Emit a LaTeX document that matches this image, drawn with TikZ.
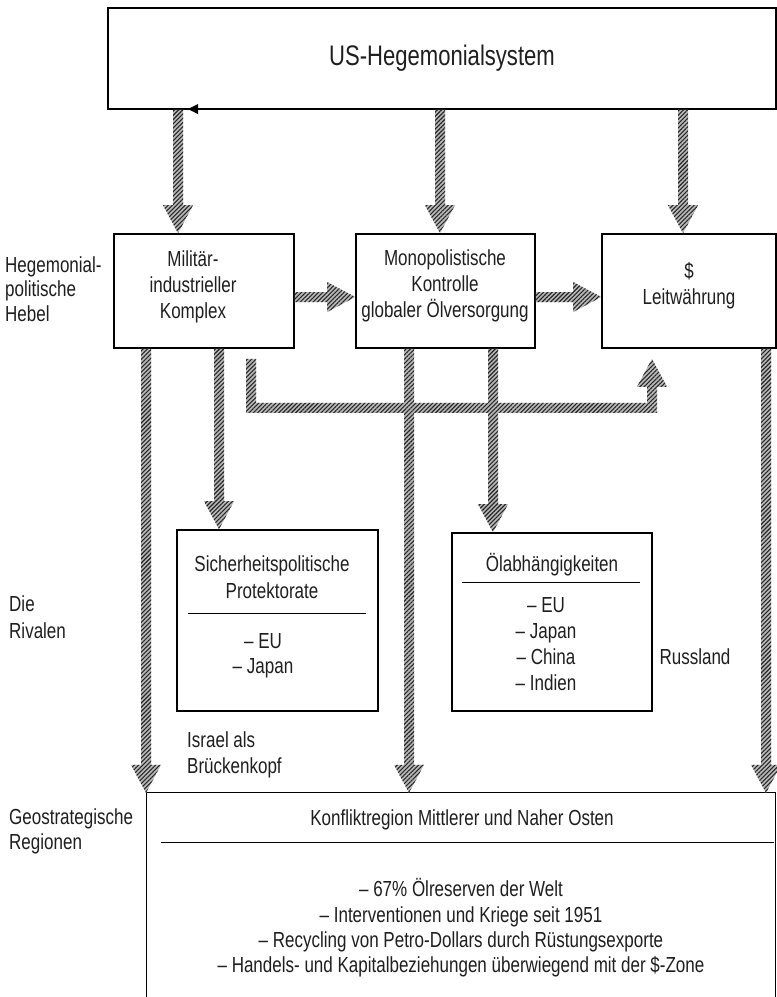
\documentclass[tikz,border=0pt]{standalone}
\usepackage{fontspec}
\setmainfont{Liberation Sans}[FakeStretch=0.78]
\usetikzlibrary{calc,patterns.meta}
\tikzset{
  box/.style={draw=black, line width=1.6pt, fill=white, inner sep=0pt},
  txt/.style={align=center, font=\fontsize{21.8}{26}\selectfont, text=black!88, inner sep=0pt},
  ltxt/.style={align=left, anchor=west, font=\fontsize{21.8}{25}\selectfont, text=black!88, inner sep=0pt},
  hatch/.style={preaction={fill=gray!55}, pattern={Lines[angle=45,distance=3pt,line width=1.1pt]}, pattern color=black!85},
  sepline/.style={draw=black, line width=1.2pt},
}
\newcommand\harrow[2]{%
  \coordinate (hA) at #1;
  \coordinate (hB) at #2;
  \coordinate (hH) at ($(hB)!28pt!(hA)$);
  \fill[hatch] ($(hA)!5pt!90:(hB)$) -- ($(hH)!5pt!-90:(hA)$) -- ($(hH)!15pt!-90:(hA)$) -- (hB) -- ($(hH)!15pt!90:(hA)$) -- ($(hH)!5pt!90:(hA)$) -- ($(hA)!5pt!-90:(hB)$) -- cycle;
}
\begin{document}
\begin{tikzpicture}[x=1pt,y=-1pt]
\fill[white] (0,0) rectangle (777,997);
\useasboundingbox (0,0) rectangle (777,997);

% boxes
\node[box, minimum width=668, minimum height=101] (top) at (442,58.5) {};
\node[txt, font=\fontsize{28.3}{32}\selectfont] (toptxt) at (442,58) {US-Hegemonialsystem};
\fill[black] (188,109) -- (198,104) -- (198,114) -- cycle;

\node[box, minimum width=180, minimum height=114] (mil) at (204,291) {};
\node[txt] (miltxt) at (193,287) {Militär-\\industrieller\\Komplex};

\node[box, minimum width=179, minimum height=114] (mono) at (445.5,291) {};
\node[txt] (monotxt) at (445,286) {Monopolistische\\Kontrolle\\globaler Ölversorgung};

\node[box, minimum width=174, minimum height=114] (dollar) at (689,291) {};
\node[txt] (dollartxt) at (689,286) {\$\\Leitwährung};

\node[box, minimum width=201, minimum height=181] (sich) at (277.5,620.5) {};
\node[txt, font=\fontsize{21.8}{27}\selectfont] (sichtitle) at (272,577) {Sicherheitspolitische\\Protektorate};
\draw[sepline] ($(sich.north west)+(12,84)$) -- ($(sich.north east)+(-13,84)$);
\node[txt, font=\fontsize{21.8}{25}\selectfont] (sichitems) at (263,656) {– EU\\– Japan};

\node[box, minimum width=200, minimum height=178] (oel) at (552,622) {};
\node[txt] (oeltitle) at (552,565) {Ölabhängigkeiten};
\draw[sepline] ($(oel.north west)+(11,50)$) -- ($(oel.north east)+(-13,50)$);
\node[txt] (oelitems) at (546,644) {– EU\\– Japan\\– China\\– Indien};

\node[inner sep=0pt, minimum width=628, minimum height=210] (geo) at (461,898) {};
\draw[line width=1.2pt] (geo.south west) -- (geo.north west) -- (geo.north east) -- (geo.south east);
\node[txt] (geotitle) at (462,820) {Konfliktregion Mittlerer und Naher Osten};
\draw[sepline] ($(geo.north west)+(14,50)$) -- ($(geo.north east)+(-1,50)$);
\node[txt, font=\fontsize{21.8}{25.3}\selectfont] (geoitems) at (461,928) {– 67\% Ölreserven der Welt\\– Interventionen und Kriege seit 1951\\– Recycling von Petro-Dollars durch Rüstungsexporte\\– Handels- und Kapitalbeziehungen überwiegend mit der \$-Zone};

% side labels
\node[ltxt, font=\fontsize{21.8}{24.5}\selectfont] (lab1) at (5,289) {Hegemonial-\\politische\\Hebel};
\node[ltxt, font=\fontsize{21.8}{27}\selectfont] (lab2) at (9,617) {Die\\Rivalen};
\node[ltxt] (lab3) at (9,831) {Geostrategische\\Regionen};
\node[ltxt, font=\fontsize{21.8}{26}\selectfont] (israel) at (187,755) {Israel als\\Brückenkopf};
\node[txt] (russ) at (695,657) {Russland};

% hatched arrows
\harrow{([xshift=-264pt]top.south)}{([xshift=-26pt]mil.north)}
\harrow{([xshift=-2pt]top.south)}{([xshift=-5.5pt]mono.north)}
\harrow{([xshift=241pt]top.south)}{([xshift=-6pt]dollar.north)}
\harrow{([yshift=-6pt]mil.east)}{([yshift=-6pt]mono.west)}
\harrow{([yshift=-6pt]mono.east)}{([yshift=-6pt]dollar.west)}
\harrow{([xshift=-58pt]mil.south)}{([xshift=-315pt]geo.north)}
\harrow{([xshift=15pt]mil.south)}{([xshift=-58.5pt]sich.north)}
\harrow{([xshift=-36.5pt]mono.south)}{([xshift=-52pt]geo.north)}
\harrow{([xshift=47.5pt]mono.south)}{([xshift=-59pt]oel.north)}
\harrow{([xshift=77pt]dollar.south)}{([xshift=305pt]geo.north)}

% L-shaped arrow from Militär box to $ box
\coordinate (Ls) at ([xshift=47pt,yshift=-10pt]mil.south);
\coordinate (Le) at ([xshift=-37pt,yshift=-10pt]dollar.south);
\fill[hatch] let \p1=(Ls), \p2=(Le) in
  (\x1-5pt,\y1) -- (\x1-5pt,\y1-54pt) -- (\x2+5pt,\y1-54pt) -- (\x2+5pt,\y2-28pt) -- (\x2+15pt,\y2-28pt) -- (\x2,\y2) -- (\x2-15pt,\y2-28pt) -- (\x2-5pt,\y2-28pt) -- (\x2-5pt,\y1-44pt) -- (\x1+5pt,\y1-44pt) -- (\x1+5pt,\y1) -- cycle;
\end{tikzpicture}
\end{document}
